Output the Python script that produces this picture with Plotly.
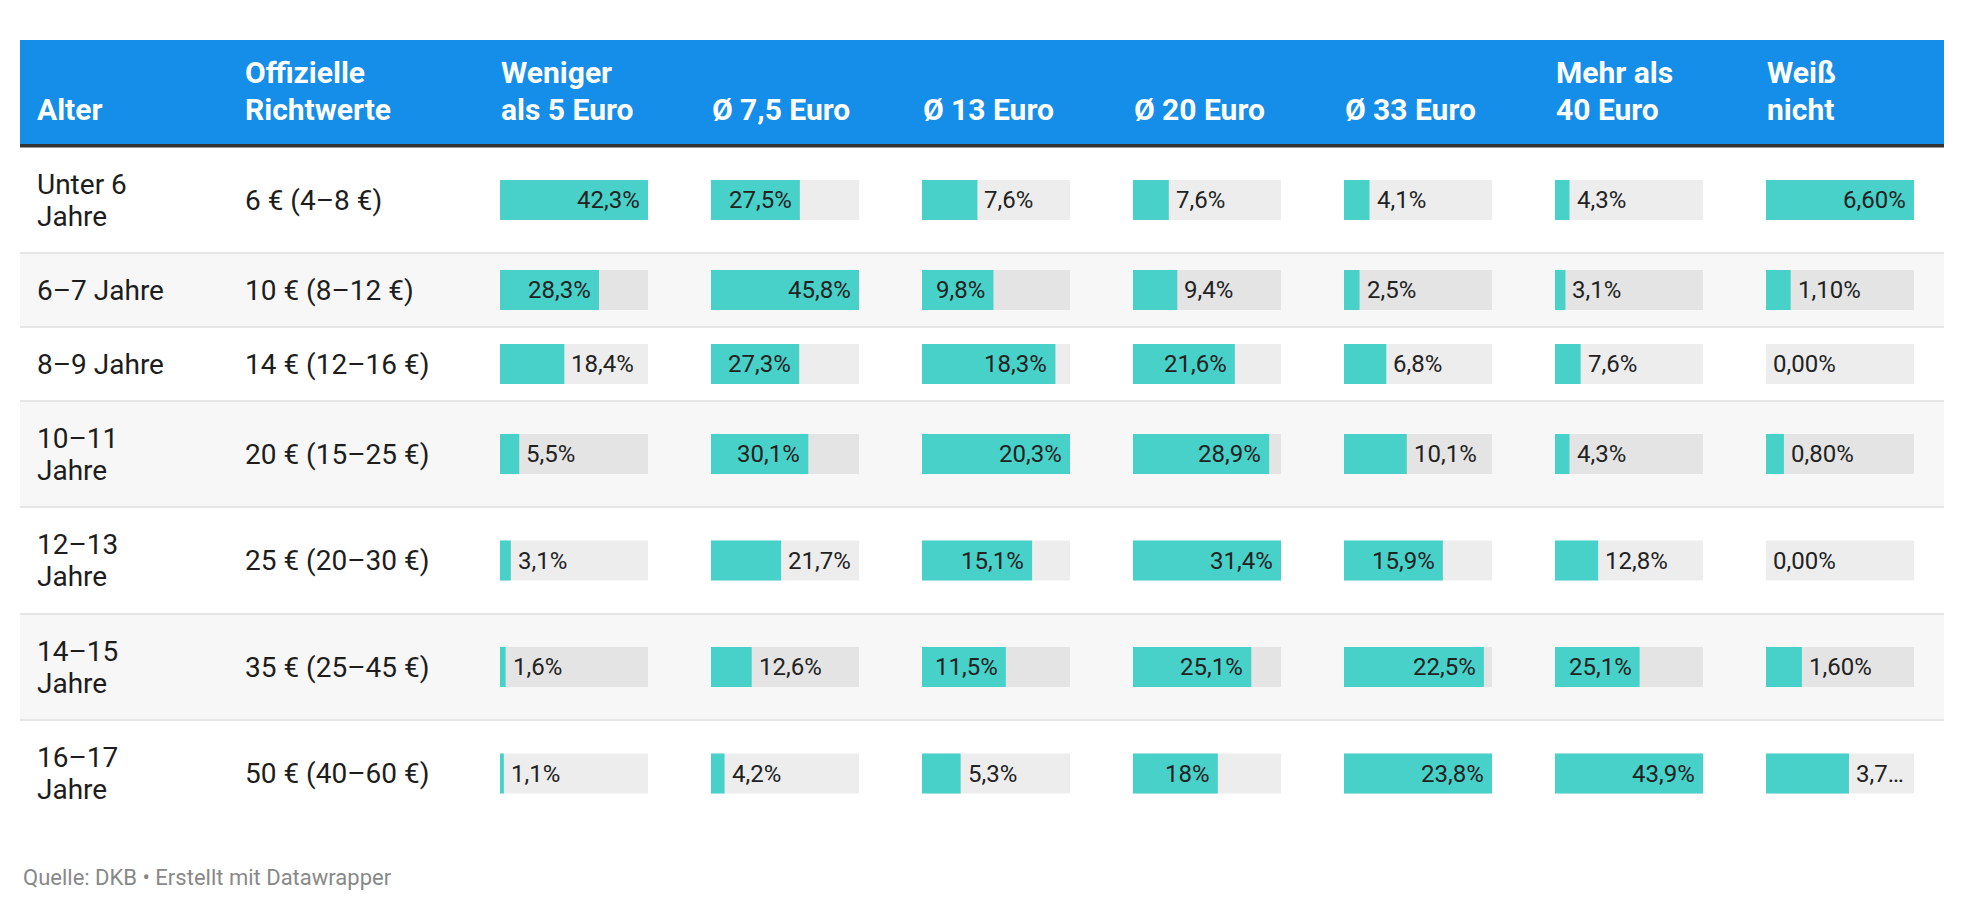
import plotly.graph_objects as go

# table data (DKB Taschengeld survey)
ages = ["Unter 6<br>Jahre", "6–7 Jahre", "8–9 Jahre", "10–11<br>Jahre",
        "12–13<br>Jahre", "14–15<br>Jahre", "16–17<br>Jahre"]
richtwerte = ["6 € (4–8 €)", "10 € (8–12 €)", "14 € (12–16 €)", "20 € (15–25 €)",
              "25 € (20–30 €)", "35 € (25–45 €)", "50 € (40–60 €)"]
text_headers = ["Alter", "Offizielle<br>Richtwerte"]
bar_headers = ["Weniger<br>als 5 Euro", "Ø 7,5 Euro", "Ø 13 Euro", "Ø 20 Euro",
               "Ø 33 Euro", "Mehr als<br>40 Euro", "Weiß<br>nicht"]

weniger_5 = [42.3, 28.3, 18.4, 5.5, 3.1, 1.6, 1.1]
avg_7_5 = [27.5, 45.8, 27.3, 30.1, 21.7, 12.6, 4.2]
avg_13 = [7.6, 9.8, 18.3, 20.3, 15.1, 11.5, 5.3]
avg_20 = [7.6, 9.4, 21.6, 28.9, 31.4, 25.1, 18.0]
avg_33 = [4.1, 2.5, 6.8, 10.1, 15.9, 22.5, 23.8]
mehr_40 = [4.3, 3.1, 7.6, 4.3, 12.8, 25.1, 43.9]
weiss_nicht = [6.6, 1.1, 0.0, 0.8, 0.0, 1.6, 3.7]
decimals = [1, 1, 1, 1, 1, 1, 2]

source = "Quelle: DKB • Erstellt mit Datawrapper"

series = [weniger_5, avg_7_5, avg_13, avg_20, avg_33, mehr_40, weiss_nicht]

#  Layout in page pixels (the page body adds an 8px margin around the figure)
W, H = 1964, 910
OFF = 8
TABLE_L, TABLE_R = 20, 1944
HEAD_TOP, HEAD_BOT = 40, 144
row_edges = [147, 253, 327, 401, 507, 614, 720, 827]
row_mid = [(row_edges[k] + row_edges[k + 1]) / 2 for k in range(len(ages))]
text_x = [36, 244]
bar_x0 = [500, 711, 922, 1133, 1344, 1555, 1766]
BAR_W = 148
BAR_H = 40
HEAD_BASE = [83, 120]  # baselines of the two header lines

BLUE = "#148ee9"
TEAL = "#47d1c9"
TXT = "#1d1d1d"
FONT = "Roboto"
BODY_FS = 28
HEAD_FS = 30
LABEL_FS = 24

# rough Roboto advance widths (em) to place bar labels like datawrapper does
CHAR_EM = {",": 0.197, "%": 0.732, "…": 0.79}


def text_width(s):
    return sum(CHAR_EM.get(ch, 0.5615) for ch in s) * LABEL_FS


def fmt(v, dec):
    s = f"{v:.{dec}f}".replace(".", ",")
    if dec == 1 and s.endswith(",0"):
        s = s[:-2]
    return s + "%"


def text_note(x, y, t, size, color, bold=False):
    return dict(xref="x", yref="y", x=x, y=y, text=f"<b>{t}</b>" if bold else t, showarrow=False,
                xanchor="left", yanchor="middle", align="left", borderpad=0,
                font=dict(family=FONT, size=size, color=color))


fig = go.Figure()
shapes = []
annotations = []

#  Header block and the dark rule under it
shapes.append(dict(type="rect", xref="x", yref="y", x0=TABLE_L, x1=TABLE_R, y0=HEAD_TOP, y1=HEAD_BOT,
                   fillcolor=BLUE, line_width=0, layer="below"))
shapes.append(dict(type="rect", xref="x", yref="y", x0=TABLE_L, x1=TABLE_R, y0=HEAD_BOT, y1=HEAD_BOT + 3.5,
                   fillcolor="#333333", line_width=0, layer="below"))
#  Zebra rows and separators
for k in range(len(ages)):
    if k % 2 == 1:
        shapes.append(dict(type="rect", xref="x", yref="y", x0=TABLE_L, x1=TABLE_R,
                           y0=row_edges[k], y1=row_edges[k + 1], fillcolor="#f7f7f7", line_width=0, layer="below"))
for y in row_edges[1:-1]:
    shapes.append(dict(type="line", xref="x", yref="y", x0=TABLE_L, x1=TABLE_R, y0=y, y1=y,
                       line=dict(color="#e6e6e6", width=2), layer="below"))

#  Header texts, one annotation per line, bottom aligned
for x, t in zip(text_x + bar_x0, text_headers + bar_headers):
    lines = t.split("<br>")
    for j, line in enumerate(lines):
        base = HEAD_BASE[j + 2 - len(lines)]
        annotations.append(text_note(x, base - 0.36 * HEAD_FS, line, HEAD_FS, "white", bold=True))

#  Row texts, vertically centred in each row
for k in range(len(ages)):
    for x, t in zip(text_x, [ages[k], richtwerte[k]]):
        lines = t.split("<br>")
        for j, line in enumerate(lines):
            y = row_mid[k] + (j - (len(lines) - 1) / 2) * 32
            annotations.append(text_note(x, y, line, BODY_FS, TXT))

#  Bars: every column has its own scale up to the column maximum
track_colors = ["#ededed" if k % 2 == 0 else "#e4e4e4" for k in range(len(ages))]
for c, vals in enumerate(series):
    ax = f"x{c + 2}"
    col_max = max(vals)
    fig.add_trace(go.Bar(x=[col_max] * len(vals), y=row_mid, base=0, orientation="h", width=BAR_H,
                         marker=dict(color=track_colors, line_width=0), xaxis=ax, yaxis="y",
                         hoverinfo="skip", showlegend=False))
    fig.add_trace(go.Bar(x=vals, y=row_mid, base=0, orientation="h", width=BAR_H,
                         marker=dict(color=TEAL, line_width=0), xaxis=ax, yaxis="y",
                         hoverinfo="skip", showlegend=False))
    for k, v in enumerate(vals):
        label = fmt(v, decimals[c])
        bar_px = v / col_max * BAR_W
        if bar_px >= text_width(label) + 20.7:
            annotations.append(dict(xref=ax, yref="y", x=v, y=row_mid[k], text=label, showarrow=False,
                                    xanchor="right", yanchor="middle", xshift=-7, borderpad=0,
                                    font=dict(family=FONT, size=LABEL_FS, color="#222222")))
        else:
            room = BAR_W - bar_px - 6 - 2
            if text_width(label) > room:
                while label and text_width(label + "…") > room:
                    label = label[:-1]
                label = label + "…"
            annotations.append(dict(xref=ax, yref="y", x=v, y=row_mid[k], text=label, showarrow=False,
                                    xanchor="left", yanchor="middle", xshift=6, borderpad=0,
                                    font=dict(family=FONT, size=LABEL_FS, color="#222222")))

#  Source line
annotations.append(text_note(22, 877, source, 22, "#888888"))

layout_axes = {}
for c in range(len(series)):
    layout_axes[f"xaxis{c + 2}"] = dict(domain=[(bar_x0[c] - OFF) / W, (bar_x0[c] - OFF + BAR_W) / W],
                                        range=[0, max(series[c])], anchor="y", visible=False,
                                        fixedrange=True)

fig.update_layout(
    width=W, height=H,
    margin=dict(l=0, r=0, t=0, b=0),
    paper_bgcolor="white", plot_bgcolor="rgba(0,0,0,0)",
    barmode="overlay",
    xaxis=dict(range=[OFF, W + OFF], domain=[0, 1], visible=False, fixedrange=True),
    yaxis=dict(range=[H + OFF, OFF], domain=[0, 1], visible=False, fixedrange=True),
    shapes=shapes, annotations=annotations,
    font=dict(family=FONT, color=TXT),
    **layout_axes,
)

fig.write_html("out.html", config={"displayModeBar": False})
